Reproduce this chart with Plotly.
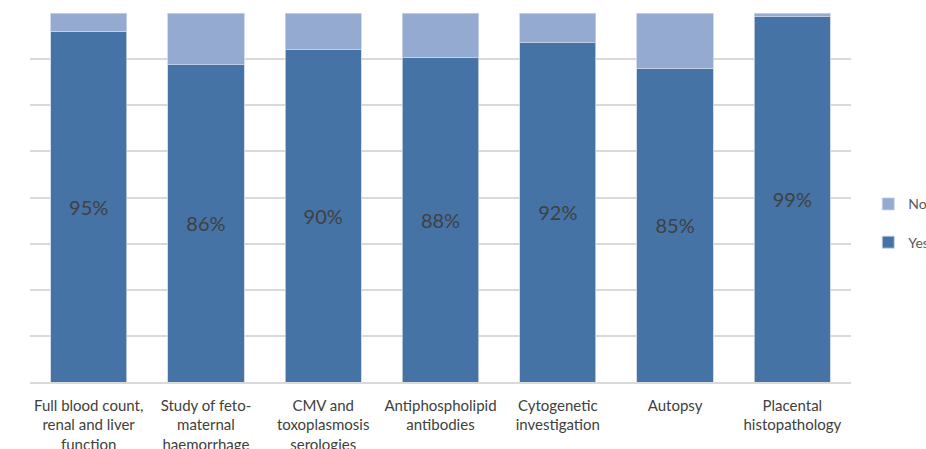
import plotly.graph_objects as go

categories = [
    "Full blood count,<br>renal and liver<br>function",
    "Study of feto-<br>maternal<br>haemorrhage",
    "CMV and<br>toxoplasmosis<br>serologies",
    "Antiphospholipid<br>antibodies",
    "Cytogenetic<br>investigation",
    "Autopsy",
    "Placental<br>histopathology",
]
yes_pct = [95, 86, 90, 88, 92, 85, 99]
no_pct = [100 - v for v in yes_pct]

YES_COLOR = "#4573A6"
NO_COLOR = "#95AAD0"
FONT = "Lato, 'Open Sans', sans-serif"

fig = go.Figure()
fig.add_trace(go.Bar(
    name="Yes", x=categories, y=yes_pct,
    marker=dict(color=YES_COLOR, line=dict(color="#c9d3e6", width=0.8)),
    text=[f"{v}%" for v in yes_pct], textposition="inside",
    insidetextanchor="middle",
    textfont=dict(size=20, color="#404040", family=FONT),
    legendgroup="yes", legendrank=2, hoverinfo="skip",
))
fig.add_trace(go.Bar(
    name="No", x=categories, y=no_pct,
    marker=dict(color=NO_COLOR, line=dict(color="#c9d3e6", width=0.8)),
    legendgroup="no", legendrank=1, hoverinfo="skip",
))

fig.update_layout(
    barmode="stack",
    bargap=0.35,
    width=926, height=449,
    margin=dict(l=30, r=75, t=13, b=67, autoexpand=False),
    paper_bgcolor="white", plot_bgcolor="white",
    font=dict(family=FONT, size=15, color="#404040"),
    showlegend=True,
    legend=dict(
        x=1.021, y=0.43, xanchor="left", yanchor="middle",
        traceorder="grouped", tracegroupgap=17,
        font=dict(size=14, color="#595959", family=FONT),
        itemwidth=30, bgcolor="rgba(0,0,0,0)",
    ),
    uniformtext=dict(minsize=8, mode="show"),
)
fig.update_xaxes(
    showgrid=False, showline=True, linecolor="#d9d9d9", linewidth=1.5,
    ticks="", tickfont=dict(size=15, color="#404040", family=FONT),
    tickangle=0, ticklabelstandoff=9, automargin=False,
)
fig.update_yaxes(
    range=[0, 100], dtick=12.5, showgrid=True, gridcolor="#d9d9d9", gridwidth=1.5,
    showticklabels=False, zeroline=False, showline=False, automargin=False,
)

fig.write_html("out.html")
